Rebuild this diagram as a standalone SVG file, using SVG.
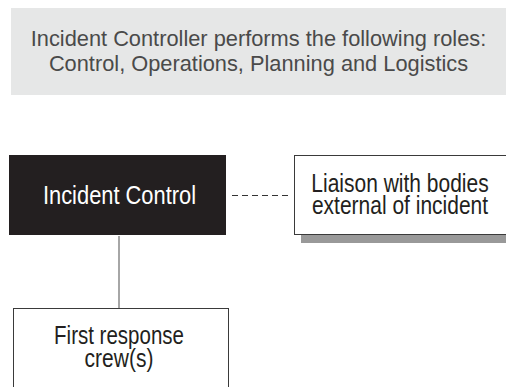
<svg xmlns="http://www.w3.org/2000/svg" width="506" height="387" viewBox="0 0 506 387">
<style>
text{font-family:"Liberation Sans",Arial,Helvetica,sans-serif;text-anchor:middle}
.hdr{font-size:21.8px;fill:#4a4a4a}
.lbl{font-size:25px;fill:#231f20}
.wht{fill:#ffffff}
.box{fill:#ffffff;stroke:#3a3a3a;stroke-width:1}
</style>
<rect width="506" height="387" fill="#ffffff"/>
<g id="header">
<rect x="11" y="8" width="495" height="87" fill="#e6e7e7"/>
<text class="hdr" x="258.5" y="46">Incident Controller performs the following roles:</text>
<text class="hdr" x="258.5" y="71">Control, Operations, Planning and Logistics</text>
</g>
<g id="connectors">
<line x1="232" y1="195.5" x2="288" y2="195.5" stroke="#333" stroke-width="1" stroke-dasharray="6,4"/>
<line x1="119" y1="236" x2="119" y2="308" stroke="#888" stroke-width="1.5"/>
</g>
<g id="incident-control">
<rect x="9" y="155" width="217" height="80" fill="#231f20"/>
<text class="lbl wht" transform="translate(119.5,204) scale(0.875,1)">Incident Control</text>
</g>
<g id="liaison">
<rect x="301" y="235" width="205" height="8" fill="#999999"/>
<rect class="box" x="294.5" y="155.5" width="220" height="79"/>
<text class="lbl" transform="translate(400,191.5) scale(0.84,1)">Liaison with bodies</text>
<text class="lbl" transform="translate(400,214) scale(0.84,1)">external of incident</text>
</g>
<g id="first-response">
<rect class="box" x="13.5" y="308.5" width="215" height="90"/>
<text class="lbl" transform="translate(119,344) scale(0.82,1)">First response</text>
<text class="lbl" transform="translate(119,367) scale(0.84,1)">crew(s)</text>
</g>
</svg>
